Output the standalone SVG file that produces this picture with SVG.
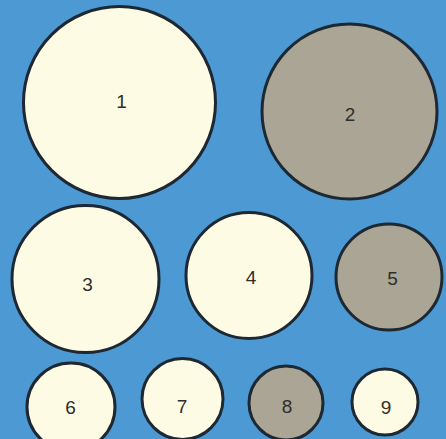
<svg xmlns="http://www.w3.org/2000/svg" width="446" height="439" viewBox="0 0 446 439">
<style>
.bg{fill:#4c99d4}
.c{stroke:#1d2833;stroke-width:3}
.light{fill:#fdfbe4}
.gray{fill:#aba595}
.t{font-family:"Liberation Sans",Arial,sans-serif;font-size:19px;fill:#2e2e2a;text-anchor:middle}
</style>
<rect class="bg" x="0" y="0" width="446" height="439"/>
<g id="n1"><circle class="c light" cx="119.5" cy="102.5" r="96"/><text class="t" x="121.5" y="108">1</text></g>
<g id="n2"><circle class="c gray" cx="349.5" cy="111.5" r="87.5"/><text class="t" x="350" y="121">2</text></g>
<g id="n3"><circle class="c light" cx="85.5" cy="279" r="73.5"/><text class="t" x="87.5" y="291">3</text></g>
<g id="n4"><circle class="c light" cx="249" cy="275.5" r="63"/><text class="t" x="251" y="284">4</text></g>
<g id="n5"><circle class="c gray" cx="389" cy="277" r="53"/><text class="t" x="392.5" y="285">5</text></g>
<g id="n6"><circle class="c light" cx="71" cy="407" r="44"/><text class="t" x="70.5" y="414">6</text></g>
<g id="n7"><circle class="c light" cx="182.5" cy="399" r="40.5"/><text class="t" x="182" y="413">7</text></g>
<g id="n8"><circle class="c gray" cx="286" cy="403" r="37"/><text class="t" x="287" y="413">8</text></g>
<g id="n9"><circle class="c light" cx="385" cy="402" r="33"/><text class="t" x="386" y="414">9</text></g>
<g id="connectors"></g>
</svg>
